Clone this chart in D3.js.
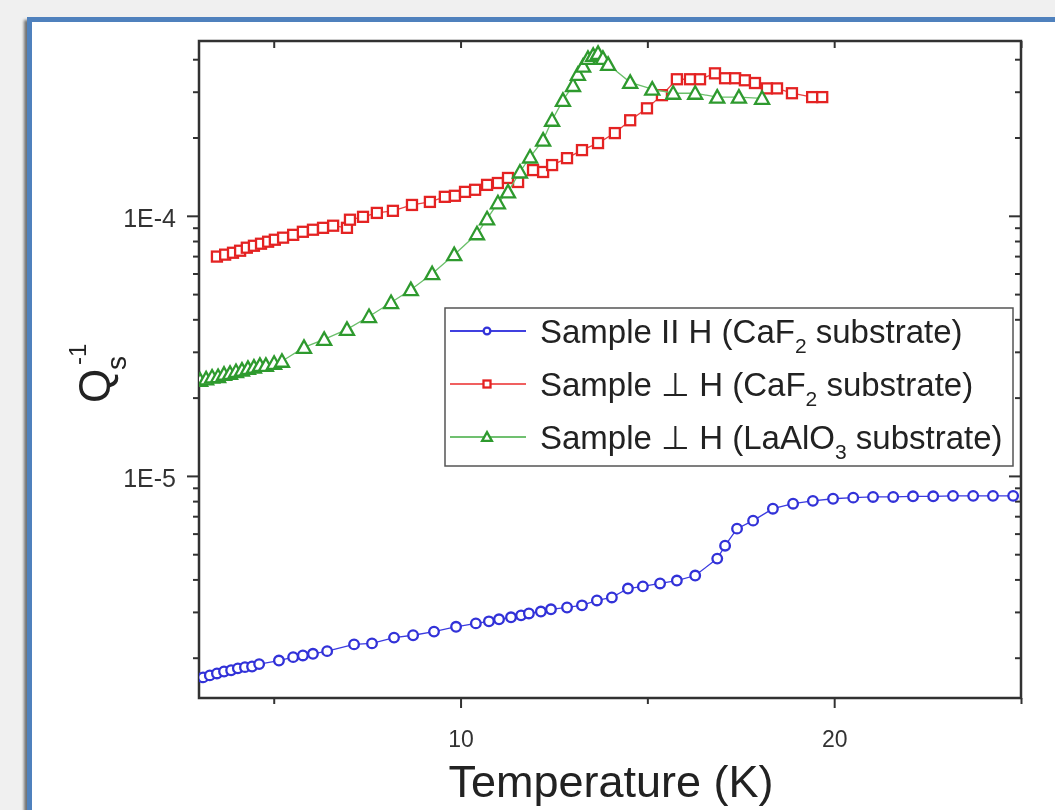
<!DOCTYPE html>
<html>
<head>
<meta charset="utf-8">
<script src="https://cdn.jsdelivr.net/npm/d3@7"></script>
<style>
  body { margin: 0; background: #f0f0f0; }
  svg { display: block; }
</style>
</head>
<body>
<div id="chart"></div>
<script>
// Temperature (K) and Q_s^-1, one pair of arrays per sample.
var blueT = [3.11, 3.29, 3.48, 3.67, 3.86, 4.04, 4.23, 4.42, 4.61, 5.14, 5.52, 5.78, 6.05, 6.43,
    7.15, 7.63, 8.22, 8.73, 9.29, 9.88, 10.41, 10.76, 11.03, 11.35, 11.62, 11.83, 12.15, 12.42,
    12.85, 13.25, 13.65, 14.05, 14.48, 14.88, 15.34, 15.79, 16.28, 16.87, 17.08, 17.40, 17.83,
    18.36, 18.90, 19.43, 19.97, 20.51, 21.04, 21.58, 22.11, 22.65, 23.18, 23.72, 24.25, 24.79];
var blueQ = [1.68e-6, 1.71e-6, 1.74e-6, 1.77e-6, 1.79e-6, 1.82e-6, 1.84e-6, 1.85e-6, 1.89e-6,
    1.95e-6, 2.01e-6, 2.04e-6, 2.07e-6, 2.12e-6, 2.25e-6, 2.27e-6, 2.39e-6, 2.44e-6, 2.52e-6,
    2.63e-6, 2.71e-6, 2.76e-6, 2.81e-6, 2.86e-6, 2.91e-6, 2.96e-6, 3.01e-6, 3.07e-6, 3.12e-6,
    3.18e-6, 3.32e-6, 3.41e-6, 3.69e-6, 3.76e-6, 3.86e-6, 3.96e-6, 4.14e-6, 4.81e-6, 5.39e-6,
    6.27e-6, 6.73e-6, 7.48e-6, 7.82e-6, 8.02e-6, 8.17e-6, 8.25e-6, 8.30e-6, 8.30e-6, 8.35e-6,
    8.35e-6, 8.38e-6, 8.38e-6, 8.38e-6, 8.38e-6];

var redT = [3.48, 3.70, 3.91, 4.10, 4.28, 4.47, 4.66, 4.85, 5.03, 5.25, 5.52, 5.78, 6.05, 6.32,
    6.59, 6.96, 7.04, 7.39, 7.76, 8.19, 8.70, 9.18, 9.58, 9.85, 10.12, 10.39, 10.71, 11.00, 11.27,
    11.54, 11.94, 12.21, 12.45, 12.85, 13.25, 13.68, 14.13, 14.54, 14.99, 15.39, 15.79, 16.14,
    16.41, 16.81, 17.08, 17.35, 17.61, 17.88, 18.20, 18.47, 18.87, 19.41, 19.68];
var redQ = [6.97e-5, 7.09e-5, 7.21e-5, 7.34e-5, 7.54e-5, 7.67e-5, 7.81e-5, 7.95e-5, 8.09e-5,
    8.24e-5, 8.45e-5, 8.68e-5, 8.84e-5, 8.99e-5, 9.16e-5, 8.99e-5, 9.66e-5, 9.91e-5, 1.026e-4,
    1.045e-4, 1.101e-4, 1.131e-4, 1.183e-4, 1.194e-4, 1.236e-4, 1.259e-4, 1.315e-4, 1.337e-4,
    1.398e-4, 1.349e-4, 1.499e-4, 1.474e-4, 1.567e-4, 1.666e-4, 1.789e-4, 1.904e-4, 2.08e-4,
    2.33e-4, 2.59e-4, 2.91e-4, 3.35e-4, 3.35e-4, 3.35e-4, 3.53e-4, 3.38e-4, 3.38e-4, 3.32e-4,
    3.24e-4, 3.09e-4, 3.09e-4, 2.96e-4, 2.86e-4, 2.86e-4];

var greenT = [3.03, 3.19, 3.35, 3.51, 3.67, 3.83, 3.99, 4.15, 4.31, 4.47, 4.63, 4.79, 5.01, 5.22,
    5.81, 6.35, 6.96, 7.55, 8.14, 8.67, 9.24, 9.83, 10.44, 10.71, 11.00, 11.27, 11.59, 11.86,
    12.21, 12.45, 12.74, 13.01, 13.14, 13.28, 13.41, 13.55, 13.68, 13.81, 13.95, 14.54, 15.13,
    15.69, 16.28, 16.87, 17.45, 18.07];
var greenQ = [2.33e-5, 2.36e-5, 2.40e-5, 2.41e-5, 2.46e-5, 2.48e-5, 2.52e-5, 2.55e-5, 2.59e-5,
    2.62e-5, 2.66e-5, 2.66e-5, 2.71e-5, 2.76e-5, 3.12e-5, 3.35e-5, 3.66e-5, 4.10e-5, 4.64e-5,
    5.20e-5, 5.99e-5, 7.09e-5, 8.53e-5, 9.74e-5, 1.122e-4, 1.236e-4, 1.474e-4, 1.683e-4,
    1.954e-4, 2.33e-4, 2.78e-4, 3.17e-4, 3.50e-4, 3.76e-4, 4.03e-4, 4.14e-4, 4.21e-4, 4.03e-4,
    3.82e-4, 3.26e-4, 3.07e-4, 2.96e-4, 2.96e-4, 2.86e-4, 2.86e-4, 2.83e-4];

var xMajor = [10, 20];
var xMinor = [5, 15, 25];
var yMajor = [1e-5, 1e-4];
var yMinor = [2e-6, 3e-6, 4e-6, 5e-6, 6e-6, 7e-6, 8e-6, 9e-6,
    2e-5, 3e-5, 4e-5, 5e-5, 6e-5, 7e-5, 8e-5, 9e-5, 2e-4, 3e-4, 4e-4];

var svgWidth = 1055;
var svgHeight = 810;
var plot = { left: 199, right: 1021, top: 41, bottom: 698 };

var svg = d3.select("#chart")
    .append("svg")
    .attr("width", svgWidth)
    .attr("height", svgHeight);

var defs = svg.append("defs");
defs.append("filter").attr("id", "shadow")
    .attr("x", "-5%").attr("y", "-5%").attr("width", "110%").attr("height", "110%")
    .append("feGaussianBlur").attr("stdDeviation", 1.5);
defs.append("filter").attr("id", "soft")
    .append("feGaussianBlur").attr("stdDeviation", 0.5);
defs.append("clipPath").attr("id", "plotclip")
    .append("rect")
    .attr("x", plot.left).attr("y", plot.top)
    .attr("width", plot.right - plot.left).attr("height", plot.bottom - plot.top);

// slide frame: white panel, blue border, soft shadow on the left
svg.append("rect")
    .attr("x", 24).attr("y", 20).attr("width", 1100).attr("height", 900)
    .attr("fill", "#6f6f6f").attr("filter", "url(#shadow)");
svg.append("rect")
    .attr("x", 29.5).attr("y", 19.5).attr("width", 1100).attr("height", 900)
    .attr("fill", "#fff").attr("stroke", "#4f81bd").attr("stroke-width", 5);

var xScale = d3.scaleLinear().domain([3, 25]).range([plot.left, plot.right]);
var yScale = d3.scaleLog().domain([1.4e-6, 4.7e-4]).range([plot.bottom, plot.top]);

var chartGroup = svg.append("g").attr("filter", "url(#soft)");

function styleAxis(g) {
    g.select(".domain").remove();
    g.selectAll("line").attr("stroke", "#333").attr("stroke-width", 2);
    g.selectAll("text").attr("fill", "#333").attr("font-family", "Liberation Sans, Arial, sans-serif");
}

// bottom axis
chartGroup.append("g")
    .attr("transform", `translate(0, ${plot.bottom})`)
    .call(d3.axisBottom(xScale).tickValues(xMajor).tickSize(10).tickPadding(23).tickFormat(d3.format("d")))
    .call(styleAxis)
    .selectAll("text").attr("font-size", 23);
chartGroup.append("g")
    .attr("transform", `translate(0, ${plot.bottom})`)
    .call(d3.axisBottom(xScale).tickValues(xMinor).tickSize(6).tickFormat(""))
    .call(styleAxis);

// top axis, ticks pointing in
chartGroup.append("g")
    .attr("transform", `translate(0, ${plot.top})`)
    .call(d3.axisBottom(xScale).tickValues(xMajor.concat(xMinor)).tickSize(7).tickFormat(""))
    .call(styleAxis);

// left axis
chartGroup.append("g")
    .attr("transform", `translate(${plot.left}, 0)`)
    .call(d3.axisLeft(yScale).tickValues(yMajor).tickSize(12).tickPadding(11)
        .tickFormat(d => "1E" + Math.round(Math.log10(d))))
    .call(styleAxis)
    .selectAll("text").attr("font-size", 25).attr("dy", "0.42em");
chartGroup.append("g")
    .attr("transform", `translate(${plot.left}, 0)`)
    .call(d3.axisLeft(yScale).tickValues(yMinor).tickSize(6).tickFormat(""))
    .call(styleAxis);

// right axis, ticks pointing in
chartGroup.append("g")
    .attr("transform", `translate(${plot.right}, 0)`)
    .call(d3.axisLeft(yScale).tickValues(yMajor).tickSize(12).tickFormat(""))
    .call(styleAxis);
chartGroup.append("g")
    .attr("transform", `translate(${plot.right}, 0)`)
    .call(d3.axisLeft(yScale).tickValues(yMinor).tickSize(6).tickFormat(""))
    .call(styleAxis);

chartGroup.append("rect")
    .attr("x", plot.left).attr("y", plot.top)
    .attr("width", plot.right - plot.left).attr("height", plot.bottom - plot.top)
    .attr("fill", "none").attr("stroke", "#333").attr("stroke-width", 2.5);

var series = [
    { name: "blue", T: blueT, Q: blueQ, color: "#3030d8", line: "#3a3ae0", shape: "circle" },
    { name: "red", T: redT, Q: redQ, color: "#e42424", line: "#e84040", shape: "square" },
    { name: "green", T: greenT, Q: greenQ, color: "#2f9a2f", line: "#6abf6a", shape: "triangle" }
];

var triPath = "M0,-7L7,5.5L-7,5.5Z";

function drawMarker(g, shape, color, size) {
    if (shape === "circle") {
        g.append("circle").attr("r", 4.8 * size)
            .attr("fill", "#fff").attr("stroke", color).attr("stroke-width", 2.3);
    } else if (shape === "square") {
        g.append("rect").attr("x", -5 * size).attr("y", -5 * size)
            .attr("width", 10 * size).attr("height", 10 * size)
            .attr("fill", "#fff").attr("stroke", color).attr("stroke-width", 2.3);
    } else {
        g.append("path").attr("d", triPath).attr("transform", `scale(${size})`)
            .attr("fill", "#fff").attr("stroke", color).attr("stroke-width", 2.3 / size);
    }
}

var dataGroup = chartGroup.append("g").attr("clip-path", "url(#plotclip)");

series.forEach(function(s) {
    var pts = s.T.map((t, i) => ({ T: t, Q: s.Q[i] }));
    var line = d3.line().x(d => xScale(d.T)).y(d => yScale(d.Q));
    dataGroup.append("path")
        .datum(pts)
        .attr("d", line)
        .attr("fill", "none")
        .attr("stroke", s.line)
        .attr("stroke-width", 1.3);
    dataGroup.selectAll(".m-" + s.name)
        .data(pts)
        .enter()
        .append("g")
        .attr("class", "m-" + s.name)
        .attr("transform", d => `translate(${xScale(d.T)}, ${yScale(d.Q)})`)
        .each(function() { drawMarker(d3.select(this), s.shape, s.color, 1); });
});

// legend
var legend = chartGroup.append("g");
legend.append("rect")
    .attr("x", 445).attr("y", 308).attr("width", 568).attr("height", 158)
    .attr("fill", "#fff").attr("stroke", "#555").attr("stroke-width", 1.5);

var legendItems = [
    { pre: "Sample II H (CaF", sub: "2", post: " substrate)" },
    { pre: "Sample \u22A5 H (CaF", sub: "2", post: " substrate)" },
    { pre: "Sample \u22A5 H (LaAlO", sub: "3", post: " substrate)" }
];
var legendLine = ["#4040e0", "#f06060", "#70c070"];

legendItems.forEach(function(item, i) {
    var cy = 331 + i * 53;
    var s = series[i];
    legend.append("line")
        .attr("x1", 450).attr("x2", 526).attr("y1", cy).attr("y2", cy)
        .attr("stroke", legendLine[i]).attr("stroke-width", 2);
    var mg = legend.append("g").attr("transform", `translate(487, ${cy})`);
    drawMarker(mg, s.shape, s.color, 0.7);
    var t = legend.append("text")
        .attr("x", 540).attr("y", cy + 12)
        .attr("font-family", "Liberation Sans, Arial, sans-serif")
        .attr("font-size", 33)
        .attr("fill", "#222");
    t.append("tspan").text(item.pre);
    t.append("tspan").attr("font-size", 21).attr("dy", 10).text(item.sub);
    t.append("tspan").attr("dy", -10).text(item.post);
});

// axis titles
chartGroup.append("text")
    .attr("x", (plot.left + plot.right) / 2 + 1)
    .attr("y", 797)
    .attr("text-anchor", "middle")
    .attr("font-family", "Liberation Sans, Arial, sans-serif")
    .attr("font-size", 45)
    .attr("fill", "#222")
    .text("Temperature (K)");

var yTitle = chartGroup.append("g")
    .attr("transform", "translate(110, 403) rotate(-90)")
    .attr("font-family", "Liberation Sans, Arial, sans-serif")
    .attr("fill", "#222");
yTitle.append("text").attr("x", 0).attr("y", 0).attr("font-size", 44).text("Q");
yTitle.append("text").attr("x", 33).attr("y", 16).attr("font-size", 28).text("s");
yTitle.append("text").attr("x", 38).attr("y", -24).attr("font-size", 24).text("-1");
</script>
</body>
</html>
